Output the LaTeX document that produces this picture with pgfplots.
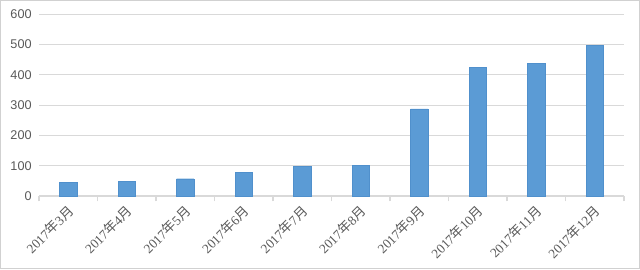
\documentclass[border=0pt]{standalone}
\usepackage{fontspec}
\setmainfont{Liberation Sans}
\newfontfamily\lserif{Liberation Serif}
\newfontfamily\cjk{Noto Sans CJK SC}
\usepackage{pgfplots}
\pgfplotsset{compat=1.18}
\definecolor{barblue}{HTML}{5B9BD5}
\definecolor{baredge}{HTML}{5090CC}
\definecolor{gridgray}{HTML}{D9D9D9}
\definecolor{txtgray}{HTML}{595959}
\newcommand{\lab}[1]{{\lserif 2017{\cjk 年}#1{\cjk 月}}}
\begin{document}
\begin{tikzpicture}
\path[use as bounding box] (0pt,0pt) rectangle (480pt,201.75pt);
\draw[black!18] (0.375pt,0.375pt) rectangle (479.625pt,201.375pt);
\begin{axis}[
  at={(29.25pt,54.75pt)}, anchor=south west,
  scale only axis,
  width=438.75pt, height=136.5pt,
  xmin=-0.5, xmax=9.5,
  ymin=0, ymax=600,
  ytick={0,100,...,600},
  ymajorgrids,
  grid style={gridgray, line width=0.6pt},
  axis lines*=left,
  y axis line style={draw=none},
  x axis line style={draw=gridgray, line width=0.8pt},
  major tick length=0pt,
  /pgf/number format/assume math mode=true,
  yticklabel style={font=\fontsize{9.5}{10}\selectfont, text=txtgray, xshift=-2pt},
  xtick={0,...,9},
  xticklabels={\lab{3},\lab{4},\lab{5},\lab{6},\lab{7},\lab{8},\lab{9},\lab{10},\lab{11},\lab{12}},
  xticklabel style={font=\fontsize{10}{11}\selectfont, text=txtgray, rotate=45, anchor=east, xshift=-4pt, yshift=-8pt, inner sep=1pt},
  extra x ticks={-0.5,0.5,...,9.5},
  extra x tick labels={},
  extra x tick style={major tick length=4pt, tick align=outside, tick style={gridgray, line width=0.8pt}, grid=none},
  clip=false,
]
\addplot[ybar, bar width=13pt, fill=barblue, draw=baredge, line width=0.3pt]
  coordinates {(0,46) (1,48) (2,57) (3,79) (4,97) (5,100) (6,287) (7,424) (8,438) (9,496)};
\end{axis}
\end{tikzpicture}
\end{document}
